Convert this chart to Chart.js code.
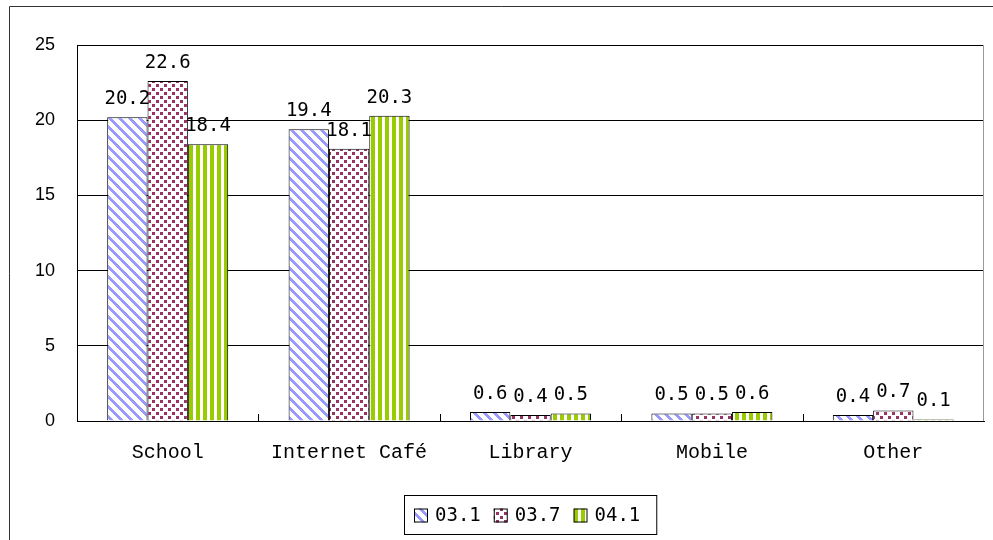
<!DOCTYPE html>
<html>
<head>
<meta charset="utf-8">
<script src="https://cdn.jsdelivr.net/npm/chart.js@4"></script>
<style>
  html, body { margin: 0; padding: 0; background: #fff; }
  #wrap { width: 993px; height: 540px; }
</style>
</head>
<body>
<div id="wrap"><canvas id="chart" width="993" height="540"></canvas></div>
<script>
// chart data
let categories = ["School", "Internet Café", "Library", "Mobile", "Other"];
let seriesNames = ["03.1", "03.7", "04.1"];
let values031 = [20.2, 19.4, 0.6, 0.5, 0.4];
let values037 = [22.6, 18.1, 0.4, 0.5, 0.7];
let values041 = [18.4, 20.3, 0.5, 0.6, 0.1];
let yMax = 25;
let yStep = 5;

// build the fill patterns used by the three series
function makePattern(ctx, kind) {
  let w = 10, h = 10;
  if (kind === "dots") { w = 8; h = 8; }
  if (kind === "vstripes") { w = 7; h = 1; }
  let tile = document.createElement("canvas");
  tile.width = w;
  tile.height = h;
  let t = tile.getContext("2d");
  t.fillStyle = "#ffffff";
  t.fillRect(0, 0, w, h);
  if (kind === "diag") {
    t.fillStyle = "#9999ff";
    for (let y = 0; y < h; y++) {
      for (let x = 0; x < w; x++) {
        if ((x - y + 100) % 10 < 4) t.fillRect(x, y, 1, 1);
      }
    }
  } else if (kind === "dots") {
    t.fillStyle = "#993366";
    t.fillRect(0, 0, 3, 3);
    t.fillRect(4, 4, 3, 3);
  } else {
    t.fillStyle = "#99cc00";
    t.fillRect(0, 0, 4, 1);
  }
  return ctx.createPattern(tile, "repeat");
}

// white page, outer frame, right edge of plot, inner category ticks
let framePlugin = {
  id: "frame",
  beforeDraw: function (chart) {
    let c = chart.ctx;
    c.save();
    c.fillStyle = "#ffffff";
    c.fillRect(0, 0, chart.width, chart.height);
    c.restore();
  },
  afterDraw: function (chart) {
    let c = chart.ctx;
    let area = chart.chartArea;
    let xScale = chart.scales.x;
    c.save();
    c.lineWidth = 1;
    c.strokeStyle = "#333333";
    c.beginPath();
    c.moveTo(9.5, chart.height);
    c.lineTo(9.5, 6.5);
    c.lineTo(chart.width, 6.5);
    c.stroke();

    c.strokeStyle = "#999999";
    c.beginPath();
    c.moveTo(Math.round(area.right) - 0.5, area.top);
    c.lineTo(Math.round(area.right) - 0.5, area.bottom);
    c.stroke();

    c.strokeStyle = "#000000";
    let step = (area.right - area.left) / categories.length;
    for (let i = 1; i < categories.length; i++) {
      let x = Math.round(xScale.getPixelForValue(i) - step / 2) + 0.5;
      c.beginPath();
      c.moveTo(x, area.bottom);
      c.lineTo(x, area.bottom - 7);
      c.stroke();
    }
    c.restore();
  }
};

// value labels above each bar
let labelPlugin = {
  id: "valueLabels",
  afterDatasetsDraw: function (chart) {
    let c = chart.ctx;
    c.save();
    c.font = "19px 'DejaVu Sans Mono'";
    c.fillStyle = "#000000";
    c.textAlign = "center";
    c.textBaseline = "alphabetic";
    chart.data.datasets.forEach(function (ds, i) {
      let meta = chart.getDatasetMeta(i);
      meta.data.forEach(function (bar, j) {
        c.fillText(ds.data[j].toFixed(1), bar.x, bar.y - 13);
      });
    });
    c.restore();
  }
};

// boxed legend below the axis
let legendPlugin = {
  id: "boxLegend",
  afterDraw: function (chart) {
    let c = chart.ctx;
    let area = chart.chartArea;
    c.save();
    c.font = "19px 'DejaVu Sans Mono'";
    let box = 14, gapText = 7, gapItem = 13, padL = 10, padR = 16;
    let widths = chart.data.datasets.map(function (ds) {
      return c.measureText(ds.label).width;
    });
    let total = padL + padR;
    widths.forEach(function (w, i) {
      total += box + gapText + w + (i > 0 ? gapItem : 0);
    });
    let left = Math.round((area.left + area.right) / 2 - total / 2);
    let top = 495, height = 39;
    let cy = top + height / 2 + 1;
    c.strokeStyle = "#000000";
    c.lineWidth = 1;
    c.strokeRect(left + 0.5, top + 0.5, total, height);
    let x = left + padL;
    chart.data.datasets.forEach(function (ds, i) {
      c.fillStyle = ds.backgroundColor;
      c.fillRect(x, cy - box / 2, box, box);
      c.strokeStyle = "#000000";
      c.strokeRect(x + 0.5, cy - box / 2 + 0.5, box - 1, box - 1);
      c.fillStyle = "#000000";
      c.textAlign = "left";
      c.textBaseline = "middle";
      c.fillText(ds.label, x + box + gapText, cy + 1);
      x += box + gapText + widths[i] + gapItem;
    });
    c.restore();
  }
};

let ctx = document.getElementById("chart").getContext("2d");
let chart = new Chart(ctx, {
  type: "bar",
  data: {
    labels: categories,
    datasets: [
      { label: seriesNames[0], data: values031, backgroundColor: makePattern(ctx, "diag"), borderColor: "#000000", borderWidth: 1 },
      { label: seriesNames[1], data: values037, backgroundColor: makePattern(ctx, "dots"), borderColor: "#000000", borderWidth: 1 },
      { label: seriesNames[2], data: values041, backgroundColor: makePattern(ctx, "vstripes"), borderColor: "#000000", borderWidth: 1 }
    ]
  },
  options: {
    responsive: false,
    animation: false,
    devicePixelRatio: 1,
    layout: { padding: { top: 45, right: 9, bottom: 0, left: 0 } },
    datasets: { bar: { categoryPercentage: 0.667, barPercentage: 1 } },
    plugins: {
      legend: { display: false },
      tooltip: { enabled: false }
    },
    scales: {
      x: {
        grid: { display: false, drawTicks: false },
        border: { color: "#000000", width: 1 },
        ticks: {
          color: "#000000",
          font: { family: "Liberation Mono", size: 20 },
          padding: 20,
          maxRotation: 0,
          autoSkip: false
        },
        afterFit: function (scale) { scale.height = 119; }
      },
      y: {
        min: 0,
        max: yMax,
        ticks: {
          stepSize: yStep,
          color: "#000000",
          font: { family: "Liberation Sans", size: 18 },
          padding: 22
        },
        grid: { color: "#000000", lineWidth: 1, drawTicks: false },
        border: { color: "#000000", width: 1 },
        afterFit: function (scale) { scale.width = 77; }
      }
    }
  },
  plugins: [framePlugin, labelPlugin, legendPlugin]
});
</script>
</body>
</html>
